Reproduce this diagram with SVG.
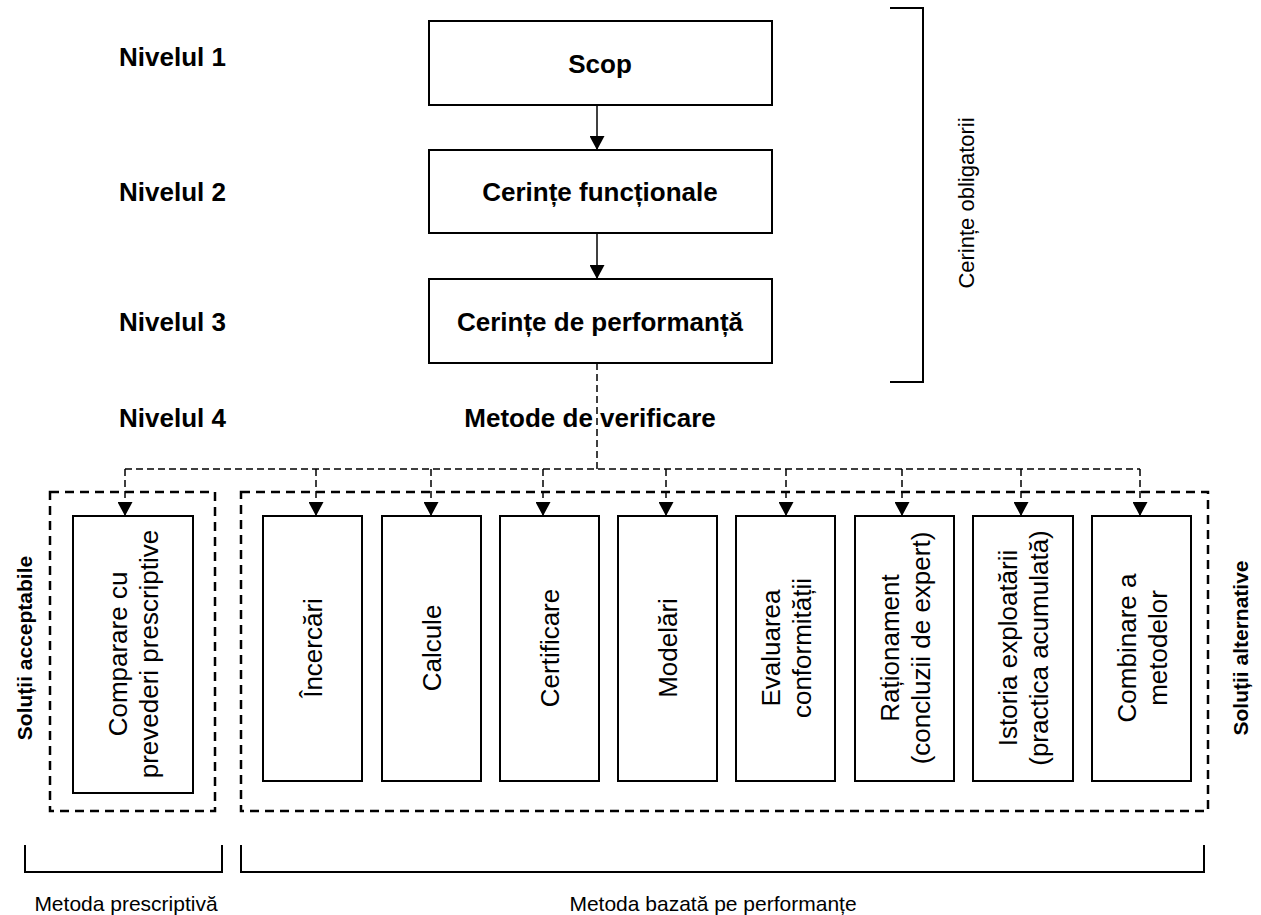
<svg xmlns="http://www.w3.org/2000/svg" width="1261" height="915" viewBox="0 0 1261 915">
<style>
.bx{fill:#fff;stroke:#000;stroke-width:2}
.grp{fill:none;stroke:#000;stroke-width:2.5;stroke-dasharray:9,6}
.dc{fill:none;stroke:#000;stroke-width:1.5;stroke-dasharray:7,4}
.sc{fill:none;stroke:#000;stroke-width:1.5}
.br{fill:none;stroke:#000;stroke-width:2}
.hb{font-family:"Liberation Sans",Arial,sans-serif;font-weight:bold;font-size:26px;fill:#000}
.rt{font-family:"Liberation Sans",Arial,sans-serif;font-size:26px;fill:#000;text-anchor:middle}
.sb{font-family:"Liberation Sans",Arial,sans-serif;font-weight:bold;font-size:21px;fill:#000;text-anchor:middle}
.sm{font-family:"Liberation Sans",Arial,sans-serif;font-size:21px;fill:#000;text-anchor:middle}
</style>
<defs>
<marker id="ah" markerWidth="15" markerHeight="15" refX="14" refY="7.5" orient="auto" markerUnits="userSpaceOnUse"><path d="M0,0 L14,7.5 L0,15 z" fill="#000"/></marker>
</defs>
<rect width="1261" height="915" fill="#fff"/>

<g id="level-labels">
<text class="hb" x="119" y="66">Nivelul 1</text>
<text class="hb" x="119" y="201">Nivelul 2</text>
<text class="hb" x="119" y="331">Nivelul 3</text>
<text class="hb" x="119" y="427">Nivelul 4</text>
</g>

<g id="groups">
<rect id="grp-acceptabile" class="grp" x="50" y="492" width="165" height="319"/>
<rect id="grp-alternative" class="grp" x="241" y="492" width="967" height="319"/>
</g>

<g id="connectors">
<line class="sc" x1="597" y1="105" x2="597" y2="150" marker-end="url(#ah)"/>
<line class="sc" x1="597" y1="233" x2="597" y2="279" marker-end="url(#ah)"/>
<line class="dc" x1="597" y1="363" x2="597" y2="469"/>
<line class="dc" x1="125" y1="469" x2="1140" y2="469"/>
<line class="dc" x1="125" y1="469" x2="125" y2="516" marker-end="url(#ah)"/>
<line class="dc" x1="316" y1="469" x2="316" y2="516" marker-end="url(#ah)"/>
<line class="dc" x1="431" y1="469" x2="431" y2="516" marker-end="url(#ah)"/>
<line class="dc" x1="543" y1="469" x2="543" y2="516" marker-end="url(#ah)"/>
<line class="dc" x1="666" y1="469" x2="666" y2="516" marker-end="url(#ah)"/>
<line class="dc" x1="786" y1="469" x2="786" y2="516" marker-end="url(#ah)"/>
<line class="dc" x1="902" y1="469" x2="902" y2="516" marker-end="url(#ah)"/>
<line class="dc" x1="1021" y1="469" x2="1021" y2="516" marker-end="url(#ah)"/>
<line class="dc" x1="1140" y1="469" x2="1140" y2="516" marker-end="url(#ah)"/>
</g>

<g id="scop"><rect class="bx" x="429" y="21" width="343" height="84"/><text class="hb" x="600" y="73" text-anchor="middle">Scop</text></g>
<g id="cerinte-functionale"><rect class="bx" x="429" y="150" width="343" height="83"/><text class="hb" x="600" y="201" text-anchor="middle">Cerințe funcționale</text></g>
<g id="cerinte-performanta"><rect class="bx" x="429" y="279" width="343" height="84"/><text class="hb" x="600" y="331" text-anchor="middle">Cerințe de performanță</text></g>
<g id="metode-verificare"><text class="hb" x="590" y="427" text-anchor="middle">Metode de verificare</text></g>

<g id="bracket-obligatorii">
<path class="br" d="M890,8 H923 V382 H890"/>
<text class="sm" transform="translate(974,203) rotate(-90)" style="font-size:22px">Cerințe obligatorii</text>
</g>

<g id="comparare"><rect class="bx" x="73" y="516" width="120" height="277"/>
<text class="rt" transform="translate(133,654) rotate(-90)"><tspan x="0" y="-6">Comparare cu</tspan><tspan x="0" y="25">prevederi prescriptive</tspan></text></g>
<g id="incercari"><rect class="bx" x="263" y="516" width="99" height="265"/>
<text class="rt" transform="translate(312.5,648) rotate(-90)" y="9.5">Încercări</text></g>
<g id="calcule"><rect class="bx" x="382" y="516" width="99" height="265"/>
<text class="rt" transform="translate(431.5,648) rotate(-90)" y="9.5">Calcule</text></g>
<g id="certificare"><rect class="bx" x="500" y="516" width="99" height="265"/>
<text class="rt" transform="translate(549.5,648) rotate(-90)" y="9.5">Certificare</text></g>
<g id="modelari"><rect class="bx" x="618" y="516" width="99" height="265"/>
<text class="rt" transform="translate(667.5,648) rotate(-90)" y="9.5">Modelări</text></g>
<g id="evaluarea"><rect class="bx" x="736" y="516" width="99" height="265"/>
<text class="rt" transform="translate(785.5,648) rotate(-90)"><tspan x="0" y="-6">Evaluarea</tspan><tspan x="0" y="25">conformității</tspan></text></g>
<g id="rationament"><rect class="bx" x="855" y="516" width="99" height="265"/>
<text class="rt" transform="translate(904.5,648) rotate(-90)"><tspan x="0" y="-6">Raționament</tspan><tspan x="0" y="25">(concluzii de expert)</tspan></text></g>
<g id="istoria"><rect class="bx" x="973" y="516" width="100" height="265"/>
<text class="rt" transform="translate(1023,648) rotate(-90)"><tspan x="0" y="-6">Istoria exploatării</tspan><tspan x="0" y="25">(practica acumulată)</tspan></text></g>
<g id="combinare"><rect class="bx" x="1092" y="516" width="99" height="265"/>
<text class="rt" transform="translate(1141.5,648) rotate(-90)"><tspan x="0" y="-6">Combinare a</tspan><tspan x="0" y="25">metodelor</tspan></text></g>

<g id="side-labels">
<text class="sb" transform="translate(32,648) rotate(-90)">Soluții acceptabile</text>
<text class="sb" transform="translate(1248,648) rotate(-90)">Soluții alternative</text>
</g>

<g id="bracket-prescriptiva">
<path class="br" d="M25,845 V872 H222 V845"/>
<text class="sm" x="126" y="911">Metoda prescriptivă</text>
</g>
<g id="bracket-performante">
<path class="br" d="M241,845 V872 H1204 V845"/>
<text class="sm" x="713" y="911">Metoda bazată pe performanțe</text>
</g>
</svg>
